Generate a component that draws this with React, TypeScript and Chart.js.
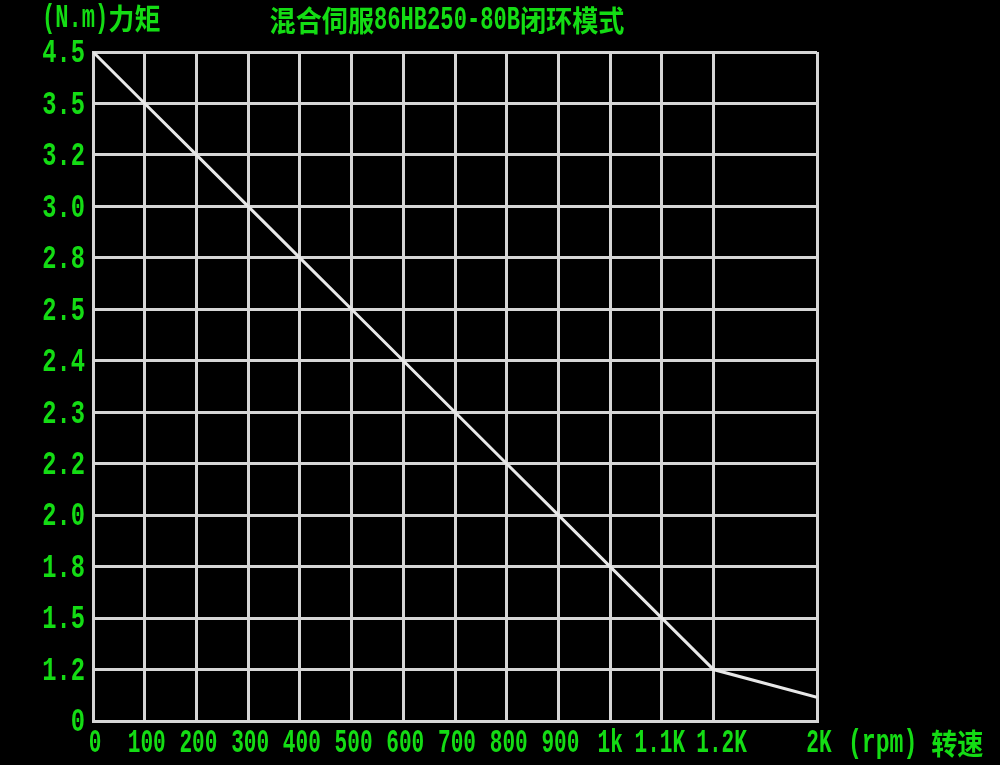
import React, { useEffect, useRef } from "react";
import { Chart, registerables } from "chart.js";

Chart.register(...registerables);

// ---- data ----
const title = "混合伺服86HB250-80B闭环模式";
const yAxisName = "(N.m)力矩";
const xAxisName = "(rpm) 转速";

// y tick labels, top to bottom (evenly spaced rows)
const torqueTicks = [4.5, 3.5, 3.2, 3.0, 2.8, 2.5, 2.4, 2.3, 2.2, 2.0, 1.8, 1.5, 1.2, 0];
const torqueTickLabels = ["4.5", "3.5", "3.2", "3.0", "2.8", "2.5", "2.4", "2.3", "2.2", "2.0", "1.8", "1.5", "1.2", "0"];

// x tick values (rpm) and labels, left to right
const speedTicks = [0, 100, 200, 300, 400, 500, 600, 700, 800, 900, 1000, 1100, 1200, 2000];
const speedTickLabels = ["0", "100", "200", "300", "400", "500", "600", "700", "800", "900", "1k", "1.1K", "1.2K", "2K"];
// axis position of each x tick (the 2K column is two cells wide)
const speedTickPos = [0, 100, 200, 300, 400, 500, 600, 700, 800, 900, 1000, 1100, 1200, 1400];

// curve
const speedData = [0, 100, 200, 300, 400, 500, 600, 700, 800, 900, 1000, 1100, 1200, 2000];
const torqueData = [4.5, 3.5, 3.2, 3.0, 2.8, 2.5, 2.4, 2.3, 2.2, 2.0, 1.8, 1.5, 1.2, 0.55];

// small hand-placement nudges of x tick labels (px)
const xLabelNudge: Record<string, number> = { "1k": -2, "1.1K": -4, "1.2K": 6 };

// ---- scale mappings ----
function torqueToPos(t: number): number {
  const n = torqueTicks.length;
  for (let i = 0; i < n - 1; i++) {
    const a = torqueTicks[i];
    const b = torqueTicks[i + 1];
    if (t <= a && t >= b) {
      const f = (a - t) / (a - b);
      return n - 1 - i - f;
    }
  }
  return t > torqueTicks[0] ? n - 1 : 0;
}
function speedToPos(s: number): number {
  for (let i = 0; i < speedTicks.length - 1; i++) {
    const a = speedTicks[i];
    const b = speedTicks[i + 1];
    if (s >= a && s <= b) {
      const f = (s - a) / (b - a);
      return speedTickPos[i] + f * (speedTickPos[i + 1] - speedTickPos[i]);
    }
  }
  return speedTickPos[speedTickPos.length - 1];
}

const GREEN = "#14dc14";
const GRID = "#d6d6d6";
const LATIN_FONT = "bold 33px 'Liberation Mono', 'DejaVu Sans Mono', monospace";
const CJK_FONT = "bold 29px 'Noto Sans CJK SC', sans-serif";
const CJK_SX = 0.9;

function isCJK(ch: string) {
  return /[\u3000-\u9fff\uff00-\uffef]/.test(ch);
}

// draws text in a condensed "CAD" style; x is left/center/right per align
function drawCad(
  ctx: CanvasRenderingContext2D,
  text: string,
  x: number,
  y: number,
  align: "left" | "center" | "right",
  latinSx = 0.67
) {
  const chars = Array.from(text);
  const widths = chars.map((ch) => {
    const cjk = isCJK(ch);
    ctx.font = cjk ? CJK_FONT : LATIN_FONT;
    return ctx.measureText(ch).width * (cjk ? CJK_SX : latinSx);
  });
  const total = widths.reduce((a, b) => a + b, 0);
  let cx = align === "left" ? x : align === "center" ? x - total / 2 : x - total;
  chars.forEach((ch, i) => {
    const cjk = isCJK(ch);
    const sx = cjk ? CJK_SX : latinSx;
    ctx.save();
    ctx.font = cjk ? CJK_FONT : LATIN_FONT;
    ctx.textAlign = "left";
    ctx.textBaseline = "middle";
    ctx.translate(cx, y);
    ctx.scale(sx, 1);
    ctx.fillText(ch, 0, 0);
    ctx.restore();
    cx += widths[i];
  });
}

const textPlugin = {
  id: "cadText",
  afterDraw(chart: any) {
    const ctx = chart.ctx as CanvasRenderingContext2D;
    const xs = chart.scales.x;
    const ys = chart.scales.y;
    ctx.save();
    ctx.fillStyle = GREEN;
    // y tick labels
    torqueTickLabels.forEach((lab, i) => {
      const py = ys.getPixelForValue(torqueTicks.length - 1 - i);
      drawCad(ctx, lab, ys.right - 8, py + 2, "right", 0.72);
    });
    // x tick labels
    speedTickLabels.forEach((lab, i) => {
      const px = xs.getPixelForValue(speedTickPos[i]);
      drawCad(ctx, lab, px + 2 + (xLabelNudge[lab] ?? 0), xs.top + 23, "center", 0.64);
    });
    drawCad(ctx, title, 447, 21, "center");
    drawCad(ctx, yAxisName, 42, 19, "left");
    drawCad(ctx, xAxisName, 848, 744, "left", 0.7);
    ctx.restore();
  },
};

const bgPlugin = {
  id: "bg",
  beforeDraw(chart: any) {
    const ctx = chart.ctx as CanvasRenderingContext2D;
    ctx.save();
    ctx.fillStyle = "#000";
    ctx.fillRect(0, 0, chart.width, chart.height);
    ctx.restore();
  },
};

export default function App() {
  const ref = useRef<HTMLCanvasElement | null>(null);
  useEffect(() => {
    if (!ref.current) return;
    const points = speedData.map((s, i) => ({ x: speedToPos(s), y: torqueToPos(torqueData[i]) }));
    const chart = new Chart(ref.current, {
      type: "line",
      data: {
        datasets: [
          {
            data: points,
            borderColor: "#e8e8e8",
            borderWidth: 3,
            pointRadius: 0,
            tension: 0,
            fill: false,
          },
        ],
      },
      options: {
        animation: false,
        responsive: false,
        maintainAspectRatio: false,
        layout: { padding: { top: 52, right: 183, left: 0, bottom: 0 } },
        plugins: { legend: { display: false }, tooltip: { enabled: false }, title: { display: false } },
        scales: {
          x: {
            type: "linear",
            min: 0,
            max: speedTickPos[speedTickPos.length - 1],
            afterBuildTicks(scale: any) {
              scale.ticks = speedTickPos.map((v) => ({ value: v }));
            },
            afterFit(scale: any) {
              scale.height = 44;
            },
            ticks: { display: false, autoSkip: false },
            grid: { color: GRID, lineWidth: 3, drawTicks: false },
            border: { color: GRID, width: 3 },
          },
          y: {
            type: "linear",
            min: 0,
            max: torqueTicks.length - 1,
            afterBuildTicks(scale: any) {
              scale.ticks = torqueTicks.map((_, i) => ({ value: i }));
            },
            afterFit(scale: any) {
              scale.width = 93;
            },
            ticks: { display: false, autoSkip: false },
            grid: { color: GRID, lineWidth: 3, drawTicks: false },
            border: { color: GRID, width: 3 },
          },
        },
      },
      plugins: [bgPlugin, textPlugin],
    } as any);
    return () => chart.destroy();
  }, []);
  return (
    <div style={{ position: "fixed", left: 0, top: 0, width: 1000, height: 765, background: "#000" }}>
      <canvas ref={ref} width={1000} height={765} style={{ width: 1000, height: 765, display: "block" }} />
    </div>
  );
}
